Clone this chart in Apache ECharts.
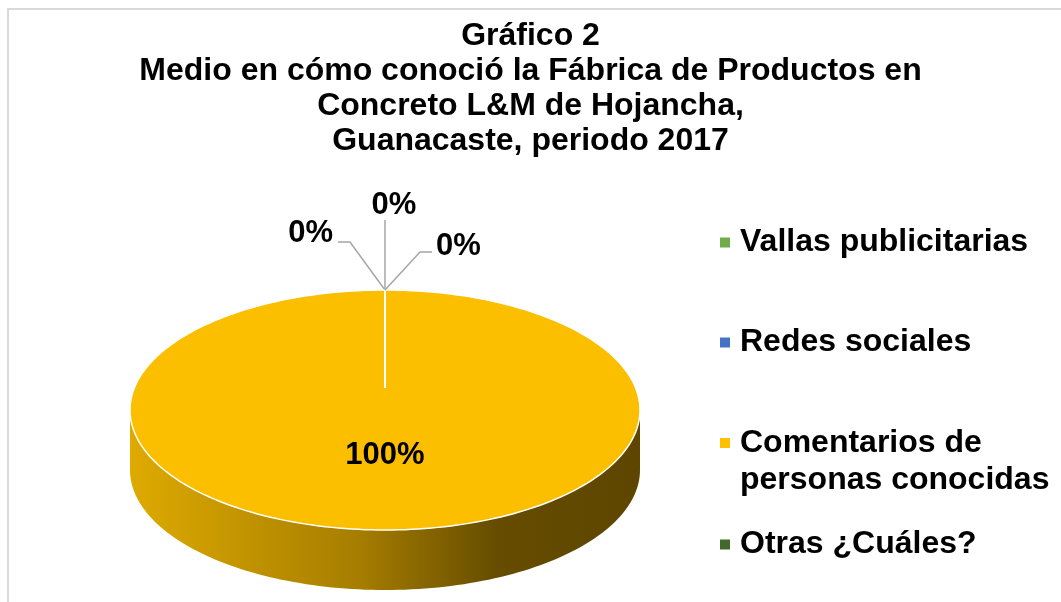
<!DOCTYPE html>
<html>
<head>
  <meta charset="utf-8">
  <title>Gráfico 2</title>
  <script src="https://cdn.jsdelivr.net/npm/echarts@6/dist/echarts.min.js"></script>
  <style>
    html, body { margin: 0; padding: 0; background: #fff; }
    #chart { width: 1061px; height: 602px; }
  </style>
</head>
<body>
  <div id="chart"></div>
  <script>
    // datos del gráfico
    var categorias = ['Vallas publicitarias', 'Redes sociales', 'Comentarios de\npersonas conocidas', 'Otras ¿Cuáles?'];
    var valores = [0, 0, 100, 0];
    var colores = ['#70AD47', '#4472C4', '#FFC000', '#43682B'];

    var FONT = '"Liberation Sans", Arial, sans-serif';
    var total = valores.reduce(function (a, b) { return a + b; }, 0);

    // geometria del pastel 3D (elipse superior + costado)
    var cx = 385, cy = 410, rx = 255, ry = 120, depth = 60, centerLift = 22;
    // posiciones de etiquetas relativas al punto de anclaje en el borde
    var etiquetas = [
      { line: [[0, 0], [-35, -48], [-47, -48]], text: [-52, -57], align: 'right' },
      { line: [[0, 0], [0, -70]], text: [9, -85], align: 'center' },
      { inside: true },
      { line: [[0, 0], [35, -38], [47, -38]], text: [51, -44], align: 'left' }
    ];
    var legendTops = [224, 324, 425, 526];
    // icono cuadrado arriba de una caja alta (para leyendas de dos lineas)
    var iconoAlto = 'path://M0,0L10,0L10,10L0,10Z M5,47.99L5.01,47.99L5.01,48L5,48Z';

    function pt(t, dy) {
      return [cx + rx * Math.sin(t), cy - ry * Math.cos(t) + (dy || 0)];
    }

    function renderSlice(params, api) {
      var i = params.seriesIndex;
      var antes = 0;
      for (var k = 0; k < i; k++) antes += valores[k];
      var a0 = antes / total * Math.PI * 2;
      var a1 = (antes + valores[i]) / total * Math.PI * 2;
      var pct = Math.round(valores[i] / total * 100) + '%';
      var children = [];
      var N = 120;

      if (a1 > a0) {
        // costado visible (mitad frontal)
        var s0 = Math.max(a0, Math.PI / 2), s1 = Math.min(a1, Math.PI * 1.5);
        if (s1 > s0) {
          var side = [], j;
          for (j = 0; j <= N; j++) side.push(pt(s0 + (s1 - s0) * j / N));
          for (j = N; j >= 0; j--) side.push(pt(s0 + (s1 - s0) * j / N, depth));
          children.push({
            type: 'polygon',
            shape: { points: side },
            style: {
              fill: new echarts.graphic.LinearGradient(cx - rx, 0, cx + rx, 0, [
                { offset: 0, color: '#DEAA00' },
                { offset: 0.45, color: '#A67D00' },
                { offset: 0.72, color: '#654C00' },
                { offset: 1, color: '#5E4600' }
              ], true),
              stroke: null
            }
          });
        }
        // cara superior
        var top = [];
        var full = (a1 - a0) >= Math.PI * 2 - 1e-6;
        if (!full) top.push([cx, cy - centerLift]);
        for (var m = 0; m <= N * 2; m++) top.push(pt(a0 + (a1 - a0) * m / (N * 2)));
        children.push({
          type: 'polygon',
          shape: { points: top },
          style: { fill: colores[i] === '#FFC000' ? '#FBBF00' : colores[i], stroke: '#fff', lineWidth: 1.5 }
        });
        // borde radial de la porcion
        var p0 = pt(a0);
        children.push({
          type: 'line',
          shape: { x1: p0[0], y1: p0[1] + 1, x2: cx, y2: cy - centerLift },
          style: { stroke: '#fff', lineWidth: 2 }
        });
      }

      var lab = etiquetas[i];
      if (lab.inside) {
        var mid = (a0 + a1) / 2;
        children.push({
          type: 'text',
          style: {
            text: pct,
            x: cx + rx * 0.38 * Math.sin(mid),
            y: cy - ry * 0.38 * Math.cos(mid),
            fill: '#000', fontSize: 31, fontWeight: 'bold', fontFamily: FONT,
            align: 'center', verticalAlign: 'middle'
          }
        });
      } else {
        var anc = pt((a0 + a1) / 2);
        children.push({
          type: 'polyline',
          shape: { points: lab.line.map(function (p) { return [anc[0] + p[0], anc[1] + p[1]]; }) },
          style: { stroke: '#A6A6A6', lineWidth: 1.5, fill: null }
        });
        children.push({
          type: 'text',
          style: {
            text: pct,
            x: anc[0] + lab.text[0],
            y: anc[1] + lab.text[1],
            fill: '#000', fontSize: 31, fontWeight: 'bold', fontFamily: FONT,
            align: lab.align, verticalAlign: 'middle'
          }
        });
      }
      return { type: 'group', children: children };
    }

    var myChart = echarts.init(document.getElementById('chart'));
    myChart.setOption({
      animation: false,
      backgroundColor: '#fff',
      title: {
        text: 'Gráfico 2\nMedio en cómo conoció la Fábrica de Productos en\nConcreto L&M de Hojancha,\nGuanacaste, periodo 2017',
        left: 'center',
        top: 19,
        padding: [0, 14, 0, 0],
        textStyle: { fontSize: 32, fontWeight: 'bold', fontFamily: FONT, color: '#000', lineHeight: 35 }
      },
      legend: categorias.map(function (c, i) {
        var dosLineas = c.indexOf('\n') >= 0;
        return {
          data: [c],
          orient: 'vertical',
          left: 720,
          top: legendTops[i],
          padding: 0,
          icon: dosLineas ? iconoAlto : 'rect',
          itemWidth: 10,
          itemHeight: dosLineas ? 48 : 10,
          selectedMode: false,
          textStyle: {
            fontSize: 32, fontWeight: 'bold', fontFamily: FONT, color: '#000', lineHeight: 37,
            padding: [0, 0, 0, 5]
          }
        };
      }),
      graphic: [{
        type: 'rect',
        shape: { x: 8, y: 9, width: 1100, height: 700 },
        style: { fill: null, stroke: '#D9D9D9', lineWidth: 2 },
        silent: true
      }],
      series: categorias.map(function (c, i) {
        return {
          name: c,
          type: 'custom',
          coordinateSystem: 'none',
          itemStyle: { color: colores[i] },
          renderItem: renderSlice,
          data: [valores[i]]
        };
      })
    });
  </script>
</body>
</html>
